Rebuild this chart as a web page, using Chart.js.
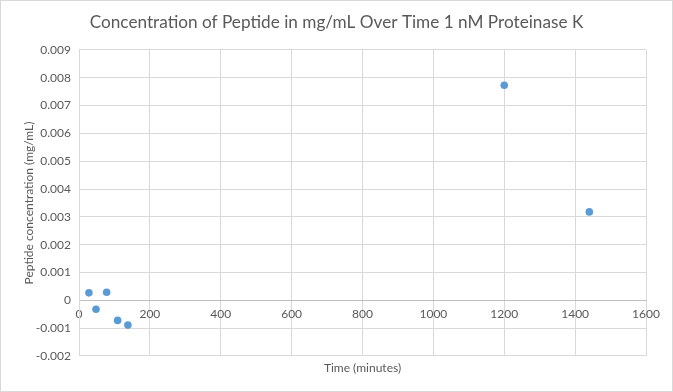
<!DOCTYPE html>
<html>
<head>
<meta charset="utf-8">
<script src="https://cdn.jsdelivr.net/npm/chart.js@4"></script>
<style>
  html, body { margin: 0; padding: 0; background: #fff; }
  #wrap { width: 673px; height: 392px; }
</style>
</head>
<body>
<div id="wrap"><canvas id="peptide-chart" width="673" height="392"></canvas></div>
<script>
// Sample times (minutes) and measured peptide concentration (mg/mL)
const timeMinutes = [28, 48, 78, 109, 138, 1200, 1440];
const concentration = [0.00027, -0.00032, 0.00029, -0.00072, -0.00089, 0.00773, 0.00318];

// Axis ranges / ticks
const xTicks = [0, 200, 400, 600, 800, 1000, 1200, 1400, 1600];
const yTicks = [-0.002, -0.001, 0, 0.001, 0.002, 0.003, 0.004, 0.005, 0.006, 0.007, 0.008, 0.009];

const textColor = '#595959';
const gridColor = '#d9d9d9';
const fontFamily = 'Lato, "Liberation Sans", sans-serif';

// White background and the thin frame round the whole chart
const framePlugin = {
    id: 'frame',
    beforeDraw(chart) {
        const ctx = chart.ctx;
        ctx.save();
        ctx.fillStyle = '#ffffff';
        ctx.fillRect(0, 0, chart.width, chart.height);
        ctx.restore();
    },
    afterDraw(chart) {
        const ctx = chart.ctx;
        ctx.save();
        ctx.strokeStyle = gridColor;
        ctx.lineWidth = 1;
        ctx.strokeRect(0.5, 0.5, chart.width - 1, chart.height - 1);
        ctx.restore();
    }
};

const points = timeMinutes.map((t, i) => ({ x: t, y: concentration[i] }));

const ctx = document.getElementById('peptide-chart').getContext('2d');
const chart = new Chart(ctx, {
    type: 'scatter',
    data: {
        datasets: [{
            label: 'Concentration',
            data: points,
            backgroundColor: '#5b9bd5',
            borderColor: '#5b9bd5',
            borderWidth: 0,
            pointRadius: 3.8,
            pointHoverRadius: 3.8
        }]
    },
    options: {
        responsive: false,
        animation: false,
        devicePixelRatio: 1,
        layout: { padding: 0 },
        plugins: {
            legend: { display: false },
            tooltip: { enabled: false },
            title: {
                display: true,
                text: 'Concentration of Peptide in mg/mL Over Time 1 nM Proteinase K',
                color: textColor,
                font: { family: fontFamily, size: 17.2, weight: 'normal', lineHeight: 1.3 },
                padding: { top: 11, bottom: 16.6 }
            }
        },
        scales: {
            x: {
                type: 'linear',
                position: { y: 0 },
                min: 0,
                max: 1600,
                afterBuildTicks: (scale) => { scale.ticks = xTicks.map(v => ({ value: v })); },
                ticks: {
                    color: textColor,
                    font: { family: fontFamily, size: 12 },
                    padding: 7,
                    maxRotation: 0,
                    callback: (v) => String(v)
                },
                grid: { color: gridColor, drawTicks: false },
                border: { display: true, color: '#bfbfbf' }
            },
            xTitle: {
                type: 'linear',
                axis: 'x',
                position: 'bottom',
                min: 0,
                max: 1600,
                ticks: { display: false },
                grid: { display: false, drawTicks: false },
                border: { display: false },
                title: {
                    display: true,
                    text: 'Time (minutes)',
                    color: textColor,
                    font: { family: fontFamily, size: 12 },
                    padding: { top: 0, bottom: 16.8 }
                },
                afterFit: (scale) => { scale.height = 36; }
            },
            y: {
                type: 'linear',
                min: -0.002,
                max: 0.009,
                afterBuildTicks: (scale) => { scale.ticks = yTicks.map(v => ({ value: v })); },
                ticks: {
                    color: textColor,
                    font: { family: fontFamily, size: 12 },
                    padding: 8,
                    callback: (v) => String(Number(Number(v).toFixed(3)))
                },
                grid: { color: gridColor, drawTicks: false },
                border: { display: true, color: gridColor },
                title: {
                    display: true,
                    text: 'Peptide concentration (mg/mL)',
                    color: textColor,
                    font: { family: fontFamily, size: 12 },
                    padding: { top: 21.8, bottom: 0 }
                },
                afterFit: (scale) => { scale.width = 79; }
            },
            // empty right-hand margin so the title stays centred on the full width
            yMargin: {
                type: 'linear',
                axis: 'y',
                position: 'right',
                min: -0.002,
                max: 0.009,
                ticks: { display: false },
                grid: { display: false, drawTicks: false },
                border: { display: false },
                afterFit: (scale) => { scale.width = 27; }
            }
        }
    },
    plugins: [framePlugin]
});
</script>
</body>
</html>
